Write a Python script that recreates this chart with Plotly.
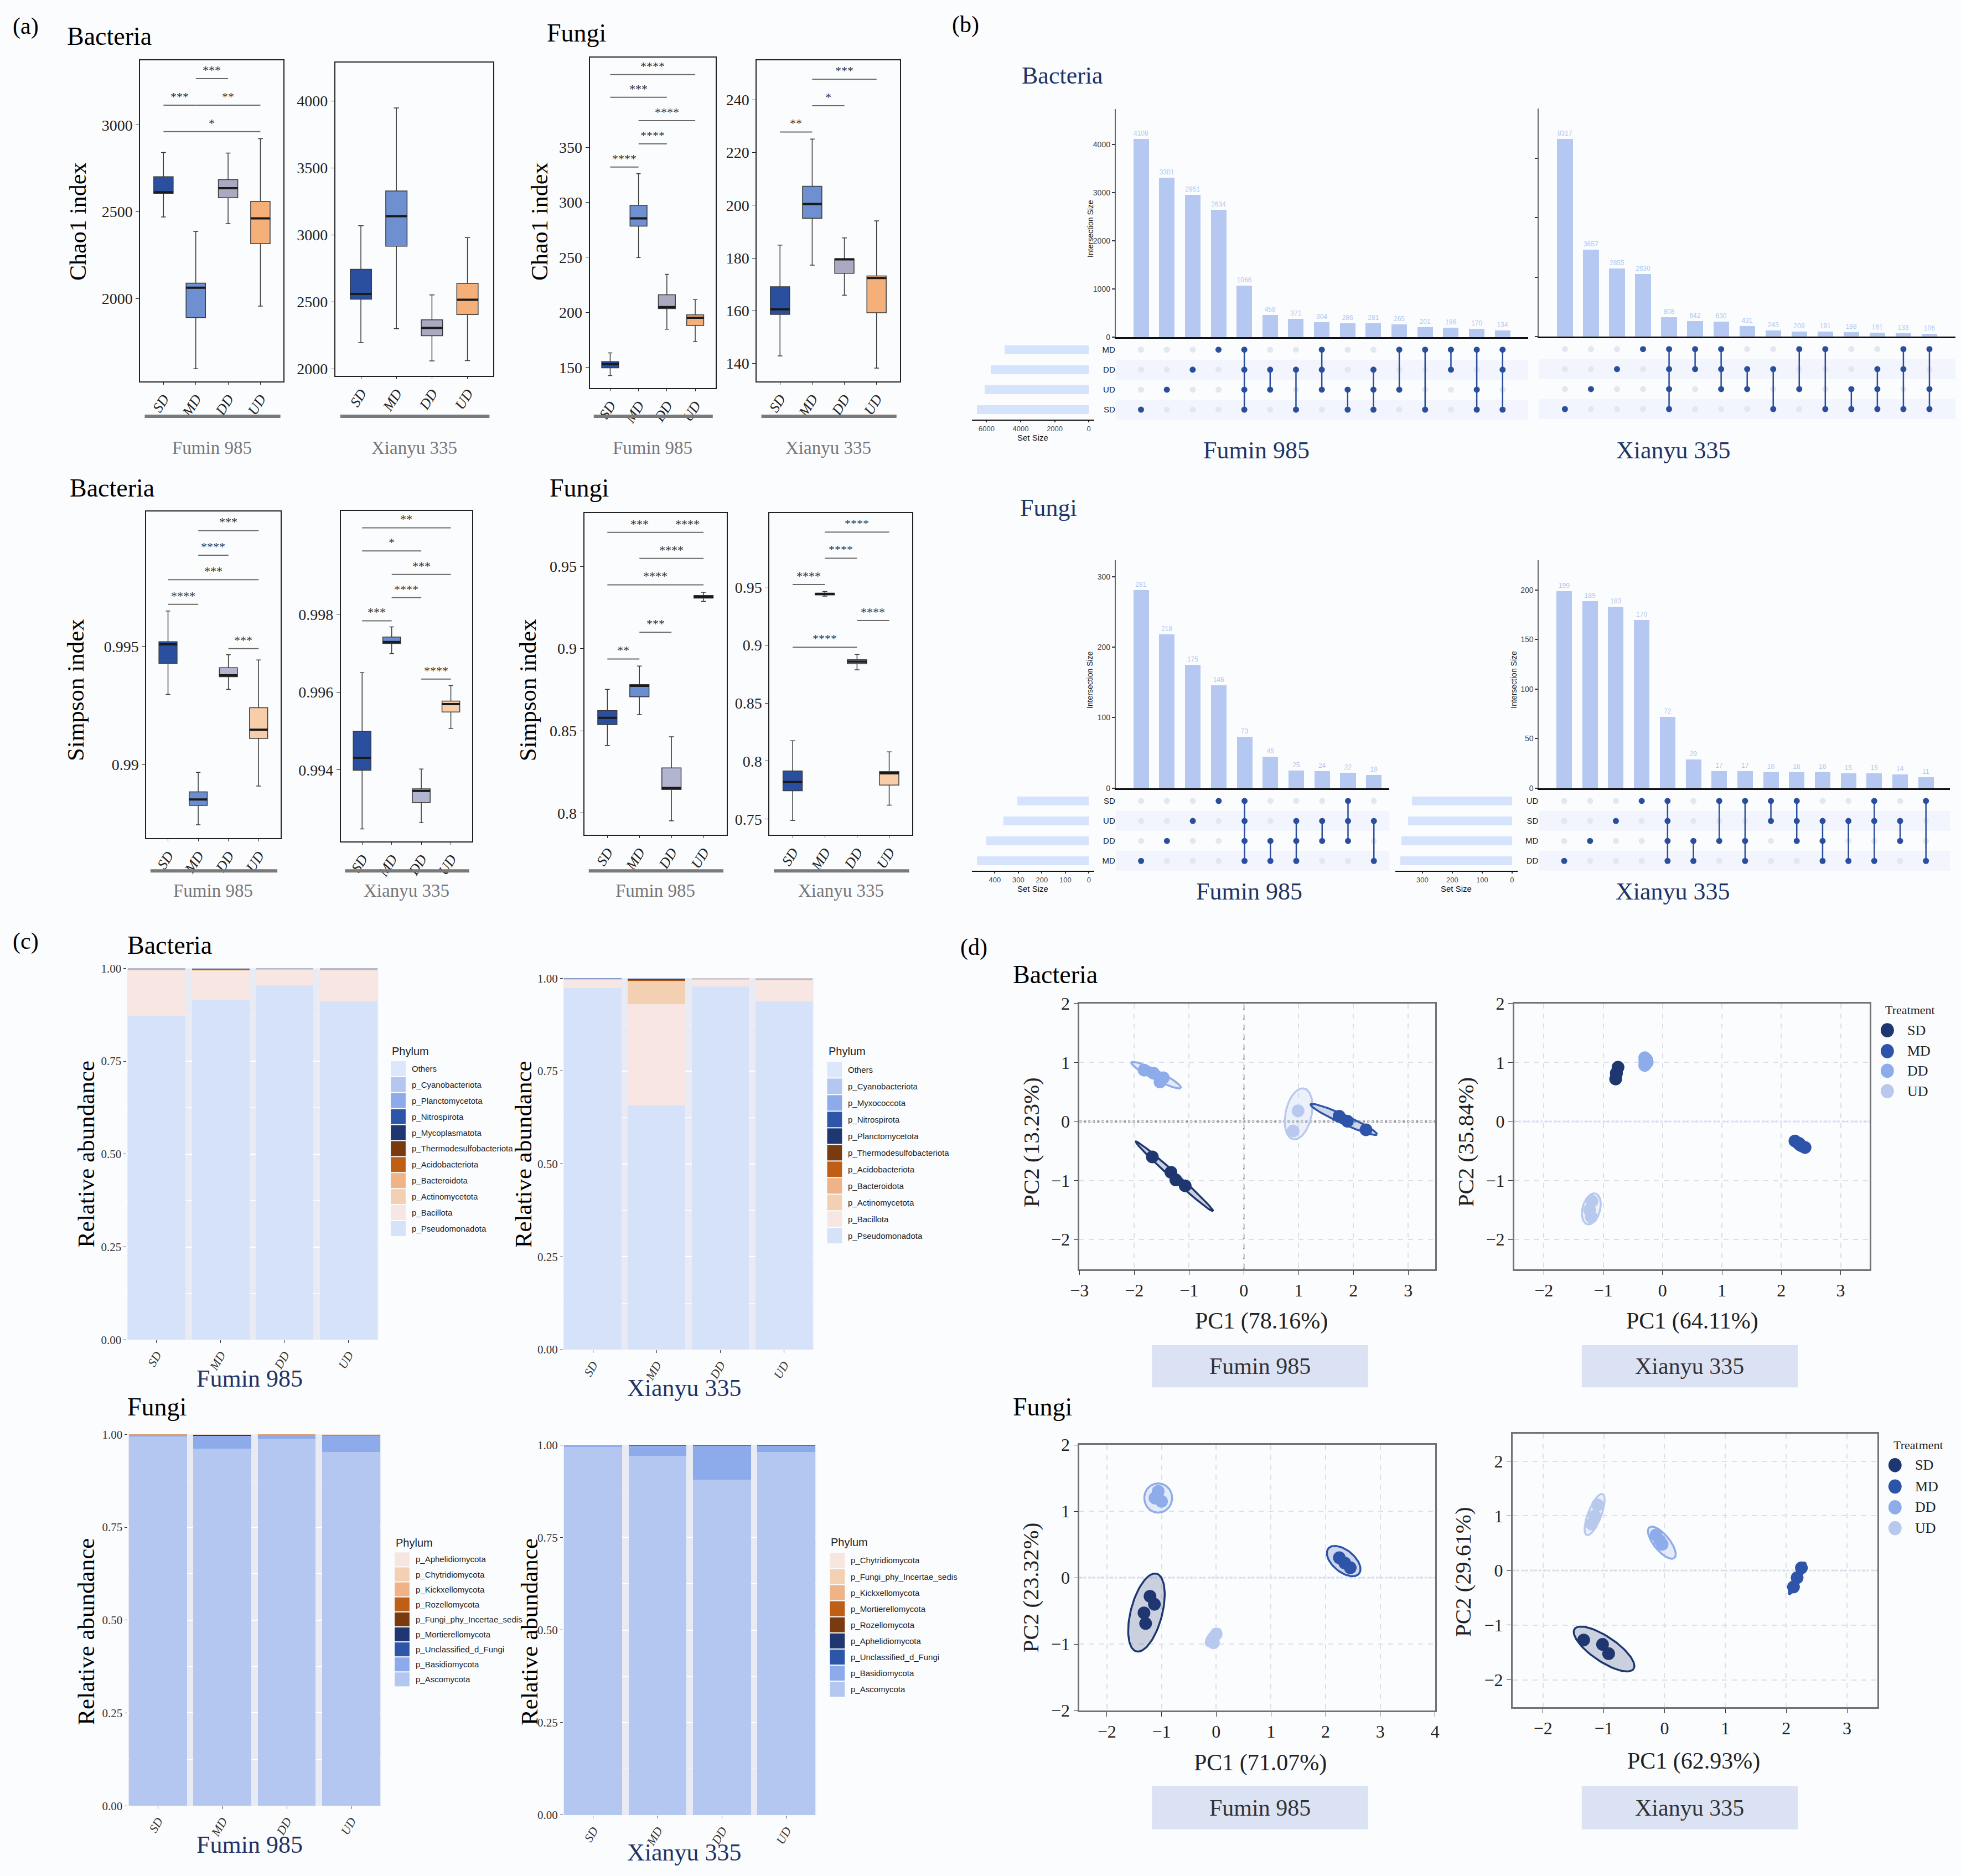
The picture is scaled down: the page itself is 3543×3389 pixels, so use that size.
import math
import plotly.graph_objects as go

W, H = 3543, 3389
SERIF = "Liberation Serif, Times New Roman, serif"
SANS = "Liberation Sans, Arial, sans-serif"
NARROW = "Liberation Sans Narrow, Liberation Sans, Arial, sans-serif"
NAVY = "#1f3466"
BG = "#fbfcfe"

treatments = ["SD", "MD", "DD", "UD"]
treatment_ticks = ["<i>SD</i>", "<i>MD</i>", "<i>DD</i>", "<i>UD</i>"]

# ---------------- (a) alpha diversity: [low whisker, q1, median, q3, high whisker]
chao_bac_fumin = [[2470, 2606, 2613, 2702, 2841], [1596, 1891, 2063, 2089, 2386],
                  [2432, 2581, 2636, 2685, 2838], [1957, 2316, 2462, 2560, 2921]]
chao_bac_xianyu = [[2197, 2521, 2560, 2744, 3070], [2301, 2917, 3141, 3329, 3949],
                   [2060, 2248, 2306, 2367, 2553], [2062, 2406, 2517, 2639, 2981]]
chao_fun_fumin = [[142.7, 149.7, 153.1, 155.4, 163.2], [249.8, 278.4, 285.4, 297.4, 326.0],
                  [184.8, 203.5, 204.8, 216.0, 234.7], [173.6, 188.2, 195.2, 197.8, 211.6]]
chao_fun_xianyu = [[142.8, 158.6, 160.5, 169.1, 184.9], [177.3, 195.1, 200.5, 207.2, 225.1],
                   [165.9, 174.2, 179.5, 179.7, 187.6], [138.2, 159.2, 172.4, 173.2, 194.1]]
simp_bac_fumin = [[0.99298, 0.99429, 0.99509, 0.99520, 0.99650], [0.98746, 0.98828, 0.98853, 0.98885, 0.98968],
                  [0.99319, 0.99372, 0.99378, 0.99410, 0.99465], [0.98910, 0.99111, 0.99148, 0.99241, 0.99443]]
simp_bac_xianyu = [[0.99248, 0.99399, 0.99431, 0.99499, 0.99650], [0.99699, 0.99725, 0.99729, 0.99742, 0.99768],
                   [0.99264, 0.99316, 0.99346, 0.99351, 0.99402], [0.99507, 0.99549, 0.99569, 0.99577, 0.99617]]
simp_fun_fumin = [[0.8411, 0.8538, 0.8579, 0.8623, 0.8752], [0.8598, 0.8707, 0.8773, 0.8781, 0.8894],
                  [0.7953, 0.8143, 0.8152, 0.8274, 0.8464], [0.9287, 0.9307, 0.9315, 0.9323, 0.9342]]
simp_fun_xianyu = [[0.7488, 0.7745, 0.782, 0.7915, 0.8175], [0.9423, 0.9433, 0.9443, 0.9448, 0.9463],
                   [0.8788, 0.884, 0.8858, 0.8875, 0.892], [0.762, 0.7793, 0.7895, 0.791, 0.808]]

# significance brackets: (group a, group b, height, stars)
sig_chao_bac_fumin = [("MD", "DD", 3267, "***"), ("SD", "MD", 3114, "***"), ("MD", "UD", 3114, "**"),
                      ("SD", "UD", 2962, "*")]
sig_chao_bac_xianyu = []
sig_chao_fun_fumin = [("SD", "UD", 416.0, "****"), ("SD", "DD", 395.4, "***"), ("MD", "UD", 374.1, "****"),
                      ("MD", "DD", 353.1, "****"), ("SD", "MD", 332.0, "****")]
sig_chao_fun_xianyu = [("MD", "UD", 247.8, "***"), ("MD", "DD", 237.8, "*"), ("SD", "MD", 227.8, "**")]
sig_simp_bac_fumin = [("MD", "UD", 0.99990, "***"), ("MD", "DD", 0.99886, "****"), ("SD", "UD", 0.99782, "***"),
                      ("SD", "MD", 0.99678, "****"), ("DD", "UD", 0.99491, "***")]
sig_simp_bac_xianyu = [("SD", "UD", 1.000231, "**"), ("SD", "DD", 0.999634, "*"), ("MD", "UD", 0.999030, "***"),
                       ("MD", "DD", 0.998433, "****"), ("SD", "MD", 0.997836, "***"), ("DD", "UD", 0.996336, "****")]
sig_simp_fun_fumin = [("SD", "DD", 0.97067, "***"), ("DD", "UD", 0.97067, "****"), ("MD", "UD", 0.95481, "****"),
                      ("SD", "UD", 0.93877, "****"), ("MD", "DD", 0.90987, "***"), ("SD", "MD", 0.89366, "**")]
sig_simp_fun_xianyu = [("MD", "UD", 0.9975, "****"), ("MD", "DD", 0.975, "****"), ("SD", "MD", 0.95225, "****"),
                       ("DD", "UD", 0.92125, "****"), ("SD", "DD", 0.89825, "****")]

chao_fills = ["#2a4f9f", "#6e8fd0", "#a9a9c2", "#f5b07a"]
simp_fills = ["#2b4f9f", "#6b8ed1", "#b2b4d0", "#f8cda9"]

# ---------------- (b) UpSet
bac_fumin_sizes = [4108, 3301, 2951, 2634, 1066, 458, 371, 304, 286, 281, 265, 201, 196, 170, 134]
bac_fumin_sets = [("SD",), ("UD",), ("DD",), ("MD",), ("MD", "DD", "UD", "SD"), ("DD", "UD"), ("DD", "SD"),
                  ("MD", "DD", "UD"), ("UD", "SD"), ("DD", "UD", "SD"), ("MD", "UD"), ("MD", "SD"),
                  ("MD", "DD"), ("MD", "UD", "SD"), ("MD", "DD", "SD")]
bac_fumin_rows = ["SD", "UD", "DD", "MD"]
bac_fumin_setsize = {"MD": 4940, "DD": 5742, "UD": 6097, "SD": 6581}

bac_xianyu_sizes = [8317, 3657, 2855, 2630, 808, 642, 630, 431, 243, 209, 191, 188, 161, 133, 106]
bac_xianyu_sets = [("SD",), ("UD",), ("DD",), ("MD",), ("MD", "DD", "UD", "SD"), ("MD", "DD"), ("MD", "DD", "UD"),
                   ("DD", "UD"), ("DD", "SD"), ("MD", "UD"), ("MD", "SD"), ("UD", "SD"), ("DD", "UD", "SD"),
                   ("MD", "DD", "SD"), ("MD", "UD", "SD")]
bac_xianyu_rows = ["SD", "UD", "DD", "MD"]

fun_fumin_sizes = [281, 218, 175, 146, 73, 45, 25, 24, 22, 19]
fun_fumin_sets = [("MD",), ("DD",), ("UD",), ("SD",), ("SD", "UD", "DD", "MD"), ("DD", "MD"), ("UD", "DD", "MD"),
                  ("UD", "DD"), ("SD", "UD", "DD"), ("UD", "MD")]
fun_fumin_rows = ["MD", "DD", "UD", "SD"]
fun_fumin_setsize = {"SD": 304, "UD": 362, "DD": 437, "MD": 476}

fun_xianyu_sizes = [199, 189, 183, 170, 72, 29, 17, 17, 16, 16, 16, 15, 15, 14, 11]
fun_xianyu_sets = [("DD",), ("MD",), ("SD",), ("UD",), ("UD", "SD", "MD", "DD"), ("MD", "DD"), ("UD", "MD"),
                   ("UD", "MD", "DD"), ("UD", "SD"), ("UD", "SD", "MD"), ("SD", "MD", "DD"), ("SD", "DD"),
                   ("UD", "SD", "DD"), ("SD", "MD"), ("UD", "DD")]
fun_xianyu_rows = ["DD", "MD", "SD", "UD"]
fun_xianyu_setsize = {"UD": 335, "SD": 348, "MD": 370, "DD": 374}

# ---------------- (c) relative abundance (legend order, values for SD, MD, DD, UD)
bac_fumin_phyla = ["Others", "p_Cyanobacteriota", "p_Planctomycetota", "p_Nitrospirota", "p_Mycoplasmatota",
                   "p_Thermodesulfobacteriota", "p_Acidobacteriota", "p_Bacteroidota", "p_Actinomycetota",
                   "p_Bacillota", "p_Pseudomonadota"]
bac_fumin_abund = [[0.0001, 0.0001, 0.0001, 0.0001], [0.0001, 0.0001, 0.0001, 0.0001],
                   [0.0001, 0.0001, 0.0001, 0.0001], [0.0002, 0.0001, 0.0001, 0.0001],
                   [0.0002, 0.0001, 0.0001, 0.0001], [0.0003, 0.0005, 0.0002, 0.0004],
                   [0.001, 0.002, 0.001, 0.0015], [0.001, 0.001, 0.0005, 0.001],
                   [0.002, 0.003, 0.001, 0.002], [0.123, 0.077, 0.0428, 0.0836],
                   [0.872, 0.916, 0.954, 0.911]]
bac_xianyu_phyla = ["Others", "p_Cyanobacteriota", "p_Myxococcota", "p_Nitrospirota", "p_Planctomycetota",
                    "p_Thermodesulfobacteriota", "p_Acidobacteriota", "p_Bacteroidota", "p_Actinomycetota",
                    "p_Bacillota", "p_Pseudomonadota"]
bac_xianyu_abund = [[0.0001, 0.0003, 0.0001, 0.0001], [0.0001, 0.0002, 0.0001, 0.0001],
                    [0.0001, 0.0002, 0.0001, 0.0001], [0.0001, 0.0003, 0.0001, 0.0001],
                    [0.0001, 0.0005, 0.0001, 0.0001], [0.0002, 0.0035, 0.0002, 0.0003],
                    [0.0005, 0.002, 0.0005, 0.001], [0.0005, 0.001, 0.0005, 0.001],
                    [0.0015, 0.062, 0.001, 0.002], [0.024, 0.273, 0.019, 0.057],
                    [0.973, 0.657, 0.978, 0.938]]
fun_fumin_phyla = ["p_Aphelidiomycota", "p_Chytridiomycota", "p_Kickxellomycota", "p_Rozellomycota",
                   "p_Fungi_phy_Incertae_sedis", "p_Mortierellomycota", "p_Unclassified_d_Fungi",
                   "p_Basidiomycota", "p_Ascomycota"]
fun_fumin_abund = [[0.0001, 0.0001, 0.0001, 0.0001], [0.0001, 0.0002, 0.0001, 0.0001],
                   [0.0001, 0.0002, 0.0001, 0.0001], [0.0001, 0.0002, 0.0001, 0.0001],
                   [0.0001, 0.0003, 0.0001, 0.0001], [0.0002, 0.002, 0.0002, 0.0005],
                   [0.0005, 0.001, 0.0005, 0.001], [0.004, 0.034, 0.011, 0.045],
                   [0.995, 0.962, 0.988, 0.953]]
fun_xianyu_phyla = ["p_Chytridiomycota", "p_Fungi_phy_Incertae_sedis", "p_Kickxellomycota",
                    "p_Mortierellomycota", "p_Rozellomycota", "p_Aphelidiomycota", "p_Unclassified_d_Fungi",
                    "p_Basidiomycota", "p_Ascomycota"]
fun_xianyu_abund = [[0.0001, 0.0001, 0.0001, 0.0001], [0.0001, 0.0001, 0.0001, 0.0001],
                    [0.0001, 0.0001, 0.0001, 0.0001], [0.0001, 0.0003, 0.0003, 0.0001],
                    [0.0001, 0.0002, 0.0002, 0.0001], [0.0001, 0.0003, 0.0002, 0.0001],
                    [0.0005, 0.001, 0.001, 0.001], [0.005, 0.028, 0.092, 0.017],
                    [0.994, 0.970, 0.906, 0.981]]
bac_phy_colors = ["#dde7fb", "#b3c7f0", "#8dabea", "#2d55a8", "#1e3770", "#7a3a0f", "#bf5e15",
                  "#efb387", "#f4d0b3", "#f7e6e2", "#d6e2fa"]
fun_phy_colors = ["#f7e6e0", "#f4d0b3", "#efb387", "#bf5e15", "#7a3a0f", "#1e3770", "#2d55a8",
                  "#8dabea", "#b3c7f0"]

# ---------------- (d) PCA scores and ellipses (cx, cy, major semi-axis ux, uy, minor/major ratio)
pca_colors = {"SD": "#1e3770", "MD": "#2d54a8", "DD": "#8eacea", "UD": "#b8c9ee"}
pca_bac_fumin = {"SD": [(-1.67, -0.60), (-1.33, -0.86), (-1.24, -0.99), (-1.07, -1.09)],
                 "MD": [(1.74, 0.09), (1.89, 0.005), (2.23, -0.14)],
                 "DD": [(-1.82, 0.87), (-1.65, 0.82), (-1.47, 0.74), (-1.53, 0.67)],
                 "UD": [(0.99, 0.18), (0.90, -0.16)]}
ell_bac_fumin = {"SD": (-1.265, -0.93, 0.705, -0.59, 0.06), "MD": (1.825, 0.035, 0.605, -0.255, 0.12),
                 "DD": (-1.6, 0.785, 0.45, -0.215, 0.16), "UD": (1.0, 0.13, 0.10, 0.43, 0.5)}
pca_bac_xianyu = {"SD": [(-0.75, 0.92), (-0.78, 0.82), (-0.79, 0.72)],
                  "MD": [(2.23, -0.33), (2.30, -0.37), (2.40, -0.44)],
                  "DD": [(-0.30, 1.08), (-0.26, 1.0), (-0.30, 0.95)],
                  "UD": [(-1.19, -1.35), (-1.23, -1.5), (-1.20, -1.62)]}
ell_bac_xianyu = {"SD": (-0.77, 0.82, 0.02, 0.14, 0.6), "MD": (2.31, -0.39, 0.12, -0.1, 0.6),
                  "DD": (-0.28, 1.02, 0.0, 0.13, 0.85), "UD": (-1.2, -1.48, 0.07, 0.26, 0.55)}
pca_fun_fumin = {"SD": [(-1.21, -0.28), (-1.13, -0.40), (-1.32, -0.53), (-1.29, -0.69)],
                 "MD": [(2.25, 0.30), (2.35, 0.22), (2.45, 0.15)],
                 "DD": [(-1.06, 1.3), (-1.0, 1.15), (-1.12, 1.2)],
                 "UD": [(-0.08, -0.95), (0.0, -0.85), (-0.05, -0.98)]}
ell_fun_fumin = {"SD": (-1.275, -0.525, 0.185, 0.585, 0.39), "MD": (2.33, 0.25, 0.28, -0.19, 0.55),
                 "DD": (-1.06, 1.2, 0.0, 0.22, 0.95), "UD": (-0.05, -0.9, 0.12, 0.12, 0.5)}
pca_fun_xianyu = {"SD": [(-1.33, -1.27), (-1.02, -1.35), (-0.92, -1.52)],
                  "MD": [(2.25, 0.05), (2.18, -0.13), (2.12, -0.30)],
                  "DD": [(-0.14, 0.65), (-0.04, 0.48), (-0.08, 0.55)],
                  "UD": [(-1.1, 1.2), (-1.15, 1.0), (-1.2, 0.85)]}
ell_fun_xianyu = {"SD": (-0.995, -1.435, 0.485, -0.365, 0.35), "MD": (2.18, -0.14, 0.13, 0.29, 0.18),
                  "DD": (-0.045, 0.51, 0.205, -0.28, 0.4), "UD": (-1.15, 1.025, 0.13, 0.375, 0.3)}


fig = go.Figure()
axes_layout = {}
shapes = []
annotations = []
n_axes = [0]


def new_axes(box, xa, ya):
    n_axes[0] += 1
    s = "" if n_axes[0] == 1 else str(n_axes[0])
    l, t, r, b = box
    axes_layout["xaxis" + s] = dict(xa, domain=[l / W, r / W], anchor="y" + s)
    axes_layout["yaxis" + s] = dict(ya, domain=[1 - b / H, 1 - t / H], anchor="x" + s)
    return "x" + s, "y" + s


def label(x, y, txt, size, color="black", family=SERIF, xanchor="center", angle=0):
    annotations.append(dict(x=x / W, y=1 - y / H, xref="paper", yref="paper", text=txt,
                            showarrow=False, textangle=angle, xanchor=xanchor, yanchor="middle",
                            font=dict(size=size, color=color, family=family)))


def rect_px(x0, y0, x1, y1, color, layer="below"):
    shapes.append(dict(type="rect", xref="paper", yref="paper", x0=x0 / W, x1=x1 / W,
                       y0=1 - y1 / H, y1=1 - y0 / H, fillcolor=color, line=dict(width=0), layer=layer))


# ---------------- (a)
def box_panel(box, stats, fills, yrange, yticks, sig, group, line_y, group_y):
    xa = dict(range=[-0.72, 3.72], tickvals=[0, 1, 2, 3], ticktext=treatment_ticks, tickangle=-58,
              ticks="outside", ticklen=4, tickcolor="#222",
              tickfont=dict(family=SERIF, size=26, color="#222"),
              showline=True, mirror=True, linecolor="#222", linewidth=2, showgrid=False, zeroline=False)
    ya = dict(range=yrange, tickvals=yticks, ticks="outside", ticklen=6, tickcolor="#222",
              tickfont=dict(family=SERIF, size=28, color="#222"),
              showline=True, mirror=True, linecolor="#222", linewidth=2, showgrid=False, zeroline=False)
    xid, yid = new_axes(box, xa, ya)
    for i, (name, s, col) in enumerate(zip(treatments, stats, fills)):
        fig.add_trace(go.Box(x=[i], lowerfence=[s[0]], q1=[s[1]], median=[s[2]], q3=[s[3]],
                             upperfence=[s[4]], fillcolor=col, line=dict(color="#3a3a3a", width=1.5),
                             width=0.6, whiskerwidth=0.25, name=name, showlegend=False,
                             hoverinfo="skip", xaxis=xid, yaxis=yid))
    mx, my = [], []
    for i, s in enumerate(stats):
        mx += [i - 0.3, i + 0.3, None]
        my += [s[2], s[2], None]
    fig.add_trace(go.Scatter(x=mx, y=my, mode="lines", line=dict(color="#1a1a1a", width=4),
                             showlegend=False, hoverinfo="skip", xaxis=xid, yaxis=yid))
    for a, b, yv, stars in sig:
        i, j = treatments.index(a), treatments.index(b)
        shapes.append(dict(type="line", xref=xid, yref=yid, x0=i, x1=j, y0=yv, y1=yv,
                           line=dict(color="#6a6a6a", width=2)))
        annotations.append(dict(x=(i + j) / 2, y=yv, xref=xid, yref=yid, text=stars, showarrow=False,
                                yanchor="bottom", yshift=1, font=dict(family=SERIF, size=22, color="#333")))
    shapes.append(dict(type="line", xref=xid, yref="paper", x0=-0.58, x1=3.62,
                       y0=1 - line_y / H, y1=1 - line_y / H, line=dict(color="#7a7a7a", width=6)))
    annotations.append(dict(x=1.5, y=1 - group_y / H, xref=xid, yref="paper", text=group,
                            showarrow=False, font=dict(family=SERIF, size=33, color="#777")))


box_panel((238, 92, 499, 678), chao_bac_fumin, chao_fills, [1524, 3372], [2000, 2500, 3000],
          sig_chao_bac_fumin, "Fumin 985", 742, 779)
box_panel((593, 96, 880, 668), chao_bac_xianyu, chao_fills, [1949, 4288], [2000, 2500, 3000, 3500, 4000],
          sig_chao_bac_xianyu, "Xianyu 335", 742, 779)
box_panel((1056, 87, 1285, 690), chao_fun_fumin, chao_fills, [131.5, 431.4], [150, 200, 250, 300, 350],
          sig_chao_fun_fumin, "Fumin 985", 742, 779)
box_panel((1360, 92, 1620, 678), chao_fun_xianyu, chao_fills, [133.2, 255.0], [140, 160, 180, 200, 220, 240],
          sig_chao_fun_xianyu, "Xianyu 335", 742, 779)
box_panel((249, 916, 493, 1512), simp_bac_fumin, simp_fills, [0.9869, 1.0007], [0.99, 0.995],
          sig_simp_bac_fumin, "Fumin 985", 1572, 1608)
box_panel((603, 915, 842, 1518), simp_bac_xianyu, simp_fills, [0.99216, 1.00066], [0.994, 0.996, 0.998],
          sig_simp_bac_xianyu, "Xianyu 335", 1572, 1608)
box_panel((1046, 919, 1305, 1506), simp_fun_fumin, simp_fills, [0.7868, 0.98225], [0.8, 0.85, 0.9, 0.95],
          sig_simp_fun_fumin, "Fumin 985", 1572, 1608)
box_panel((1383, 919, 1643, 1506), simp_fun_xianyu, simp_fills, [0.7365, 1.01375],
          [0.75, 0.8, 0.85, 0.9, 0.95], sig_simp_fun_xianyu, "Xianyu 335", 1572, 1608)

label(30, 30, "(a)", 42)
label(103, 48, "Bacteria", 46, xanchor="left")
label(976, 42, "Fungi", 46, xanchor="left")
label(108, 873, "Bacteria", 46, xanchor="left")
label(981, 873, "Fungi", 46, xanchor="left")
label(125, 387, "Chao1 index", 42, angle=-90)
label(965, 387, "Chao1 index", 42, angle=-90)
label(121, 1242, "Simpson index", 43, angle=-90)
label(943, 1242, "Simpson index", 43, angle=-90)


# ---------------- (b)
def upset_panel(bars_box, mat_box, xrange, yrange, yticks, show_labels, sizes, sets, rows,
                set_box=None, set_sizes=None, set_range=None, set_ticks=None):
    xa = dict(range=xrange, showticklabels=False, ticks="", showgrid=False, zeroline=False,
              showline=True, linecolor="#111", linewidth=3)
    ya = dict(range=yrange, tickvals=yticks, showticklabels=show_labels, ticks="outside", ticklen=5,
              tickwidth=2, tickcolor="#333", tickfont=dict(family=NARROW, size=14, color="#444"),
              showline=True, linecolor="#666", linewidth=2, showgrid=False, zeroline=False)
    xb, yb = new_axes(bars_box, xa, ya)
    fig.add_trace(go.Bar(x=list(range(len(sizes))), y=sizes, width=0.6,
                         marker=dict(color="#b4c8f2", line=dict(width=0)),
                         text=[str(v) for v in sizes], textposition="outside", textangle=0,
                         constraintext="none", cliponaxis=False,
                         textfont=dict(family=NARROW, size=12, color="#b3c6ee"),
                         showlegend=False, hoverinfo="skip", xaxis=xb, yaxis=yb))
    xm, ym = new_axes(mat_box, dict(range=xrange, visible=False),
                      dict(range=[-0.5, 3.5], tickvals=[0, 1, 2, 3], ticktext=rows,
                           showticklabels=show_labels, ticks="",
                           tickfont=dict(family=NARROW, size=15, color="#222"),
                           showline=False, showgrid=False, zeroline=False))
    for r in (0, 2):
        shapes.append(dict(type="rect", xref=xm + " domain", yref=ym, x0=0, x1=1, y0=r - 0.5, y1=r + 0.5,
                           fillcolor="#f2f5fd", line=dict(width=0), layer="below"))
    ix, iy, ax, ay, lx, ly = [], [], [], [], [], []
    for c, members in enumerate(sets):
        active = [rows.index(m) for m in members]
        for r in range(4):
            if r in active:
                ax.append(c)
                ay.append(r)
            else:
                ix.append(c)
                iy.append(r)
        if len(active) > 1:
            lx += [c, c, None]
            ly += [min(active), max(active), None]
    fig.add_trace(go.Scatter(x=ix, y=iy, mode="markers", marker=dict(size=11, color="#e3e7f0"),
                             showlegend=False, hoverinfo="skip", xaxis=xm, yaxis=ym))
    fig.add_trace(go.Scatter(x=lx, y=ly, mode="lines", line=dict(color="#2a4e9b", width=2.5),
                             showlegend=False, hoverinfo="skip", xaxis=xm, yaxis=ym))
    fig.add_trace(go.Scatter(x=ax, y=ay, mode="markers", marker=dict(size=11, color="#2a4e9b"),
                             showlegend=False, hoverinfo="skip", xaxis=xm, yaxis=ym))
    if set_box is not None:
        xs, ys = new_axes(set_box,
                          dict(range=set_range, tickvals=set_ticks, ticks="outside", ticklen=3, tickwidth=2,
                               tickcolor="#333", tickfont=dict(family=NARROW, size=13, color="#444"),
                               showline=True, linecolor="#111", linewidth=2, showgrid=False, zeroline=False),
                          dict(range=[-0.5, 3.5], visible=False))
        fig.add_trace(go.Bar(x=[set_sizes[r] for r in rows], y=[0, 1, 2, 3], orientation="h", width=0.45,
                             marker=dict(color="#d6e3fc", line=dict(width=0)), showlegend=False,
                             hoverinfo="skip", xaxis=xs, yaxis=ys))


upset_panel((2013, 181, 2763, 597), (2013, 602, 2763, 748), [-0.98, 14.98], [0, 4730],
            [0, 1000, 2000, 3000, 4000], True, bac_fumin_sizes, bac_fumin_sets, bac_fumin_rows,
            (1751, 602, 1974, 748), bac_fumin_setsize, [6871, -322], [6000, 4000, 2000, 0])
upset_panel((2783, 180, 3541, 596), (2783, 601, 3541, 747), [-1, 15], [0, 9607],
            [0, 2500, 5000, 7500], False, bac_xianyu_sizes, bac_xianyu_sets, bac_xianyu_rows)
upset_panel((2013, 1005, 2511, 1421), (2013, 1426, 2511, 1572), [-0.98, 9.6], [0, 323],
            [0, 100, 200, 300], True, fun_fumin_sizes, fun_fumin_sets, fun_fumin_rows,
            (1751, 1426, 1974, 1572), fun_fumin_setsize, [498, -23], [400, 300, 200, 100, 0])
upset_panel((2783, 1005, 3531, 1421), (2783, 1426, 3531, 1572), [-0.98, 14.93], [0, 230],
            [0, 50, 100, 150, 200], True, fun_xianyu_sizes, fun_xianyu_sets, fun_xianyu_rows,
            (2522, 1426, 2744, 1572), fun_xianyu_setsize, [390, -18], [300, 200, 100, 0])

label(1740, 27, "(b)", 42)
label(1916, 120, "Bacteria", 44, NAVY)
label(1891, 909, "Fungi", 44, NAVY)
label(1967, 399, "Intersection Size", 14, "#111", SANS, angle=-90)
label(1966, 1223, "Intersection Size", 14, "#111", SANS, angle=-90)
label(2737, 1223, "Intersection Size", 14, "#111", SANS, angle=-90)
label(1862, 781, "Set Size", 15, "#111", NARROW)
label(1862, 1605, "Set Size", 15, "#111", NARROW)
label(2633, 1605, "Set Size", 15, "#111", NARROW)
label(2269, 804, "Fumin 985", 44, NAVY)
label(3028, 804, "Xianyu 335", 44, NAVY)
label(2256, 1610, "Fumin 985", 44, NAVY)
label(3027, 1610, "Xianyu 335", 44, NAVY)


# ---------------- (c)
def composition_panel(box, phyla, abund, colors, leg_x, title_y, first_y, step):
    xa = dict(range=[0.537, 4.463], tickvals=[1, 2, 3, 4], ticktext=treatment_ticks, tickangle=-60,
              ticks="outside", ticklen=5, tickcolor="#333", tickfont=dict(family=SERIF, size=22, color="#333"),
              showline=False, showgrid=False, zeroline=False)
    ya = dict(range=[0, 1], tickvals=[0, 0.25, 0.5, 0.75, 1], ticktext=["0.00", "0.25", "0.50", "0.75", "1.00"],
              ticks="outside", ticklen=5, tickcolor="#333", tickfont=dict(family=SERIF, size=21, color="#333"),
              showline=False, showgrid=True, gridcolor="white", gridwidth=2, zeroline=False,
              minor=dict(tickvals=[0.125, 0.375, 0.625, 0.875], showgrid=True, gridcolor="white",
                         gridwidth=1, ticks=""))
    xid, yid = new_axes(box, xa, ya)
    shapes.append(dict(type="rect", xref=xid + " domain", yref=yid + " domain", x0=0, x1=1, y0=0, y1=1,
                       fillcolor="#e8ebf3", line=dict(width=0), layer="below"))
    for name, vals, col in reversed(list(zip(phyla, abund, colors))):
        fig.add_trace(go.Bar(x=[1, 2, 3, 4], y=vals, width=0.9, name=name,
                             marker=dict(color=col, line=dict(width=0)), showlegend=False,
                             hoverinfo="skip", xaxis=xid, yaxis=yid))
    label(leg_x, title_y, "Phylum", 20, "#222", NARROW, xanchor="left")
    for k, (name, col) in enumerate(zip(phyla, colors)):
        yc = first_y + k * step
        rect_px(leg_x, yc - step / 2 + 1, leg_x + 27, yc + step / 2 - 1, col, layer="above")
        label(leg_x + 36, yc, name, 15, "#222", NARROW, xanchor="left")


composition_panel((214, 1750, 671, 2428), bac_fumin_phyla, bac_fumin_abund, bac_phy_colors, 694, 1901, 1933, 29.2)
composition_panel((1008, 1768, 1463, 2446), bac_xianyu_phyla, bac_xianyu_abund, bac_phy_colors, 1488, 1901, 1935, 30.3)
composition_panel((216, 2601, 676, 3279), fun_fumin_phyla, fun_fumin_abund, fun_phy_colors, 701, 2799, 2829, 27.4)
composition_panel((1008, 2620, 1468, 3296), fun_xianyu_phyla, fun_xianyu_abund, fun_phy_colors, 1493, 2798, 2831, 29.4)

label(30, 1701, "(c)", 42)
label(212, 1708, "Bacteria", 46, xanchor="left")
label(212, 2551, "Fungi", 46, xanchor="left")
label(140, 2089, "Relative abundance", 43, angle=-90)
label(935, 2089, "Relative abundance", 43, angle=-90)
label(140, 2961, "Relative abundance", 43, angle=-90)
label(946, 2961, "Relative abundance", 43, angle=-90)
label(437, 2499, "Fumin 985", 44, NAVY)
label(1228, 2516, "Xianyu 335", 44, NAVY)
label(437, 3350, "Fumin 985", 44, NAVY)
label(1228, 3364, "Xianyu 335", 44, NAVY)


# ---------------- (d)
def rgba(hex_color, a):
    h = hex_color.lstrip("#")
    return "rgba(%d,%d,%d,%.2f)" % (int(h[0:2], 16), int(h[2:4], 16), int(h[4:6], 16), a)


def pca_panel(box, xrange, yrange, xticks, yticks, points, ellipses, strong_zero):
    tick = dict(ticks="outside", ticklen=8, tickcolor="#333", tickfont=dict(family=SERIF, size=32, color="#222"),
                showline=True, mirror=True, linecolor="#737373", linewidth=2.5, showgrid=True,
                gridcolor="#dcdfe6", griddash="dash", gridwidth=1.5, zeroline=False)
    xid, yid = new_axes(box, dict(tick, range=xrange, tickvals=xticks), dict(tick, range=yrange, tickvals=yticks))
    if strong_zero:
        shapes.append(dict(type="line", xref=xid, yref=yid + " domain", x0=0, x1=0, y0=0, y1=1, layer="below",
                           line=dict(color="#8f8f8f", width=2.5, dash="dash")))
        shapes.append(dict(type="line", xref=xid + " domain", yref=yid, x0=0, x1=1, y0=0, y1=0, layer="below",
                           line=dict(color="#999999", width=4, dash="dot")))
    else:
        shapes.append(dict(type="line", xref=xid + " domain", yref=yid, x0=0, x1=1, y0=0, y1=0, layer="below",
                           line=dict(color="#dde3f6", width=4, dash="dot")))
    l, t, r, b = box
    sx = (r - l) / (xrange[1] - xrange[0])
    sy = (b - t) / (yrange[1] - yrange[0])
    for g in ["UD", "DD", "MD", "SD"]:
        cx, cy, ux, uy, ratio = ellipses[g]
        vx, vy = -ratio * uy * sy / sx, ratio * ux * sx / sy
        ex, ey = [], []
        for k in range(81):
            a = 2 * math.pi * k / 80
            ex.append(cx + ux * math.cos(a) + vx * math.sin(a))
            ey.append(cy + uy * math.cos(a) + vy * math.sin(a))
        fig.add_trace(go.Scatter(x=ex, y=ey, mode="lines", fill="toself", fillcolor=rgba(pca_colors[g], 0.22),
                                 line=dict(color=pca_colors[g], width=3.5), showlegend=False,
                                 hoverinfo="skip", xaxis=xid, yaxis=yid))
        fig.add_trace(go.Scatter(x=[p[0] for p in points[g]], y=[p[1] for p in points[g]], mode="markers",
                                 marker=dict(size=23, color=pca_colors[g]), showlegend=False,
                                 hoverinfo="skip", xaxis=xid, yaxis=yid))


pca_panel((1947, 1814, 2594, 2299), [-3, 3.49], [-2.5, 2.0], [-3, -2, -1, 0, 1, 2, 3], [-2, -1, 0, 1, 2],
          pca_bac_fumin, ell_bac_fumin, True)
pca_panel((2738, 1814, 3385, 2299), [-2.5, 3.49], [-2.5, 2.0], [-2, -1, 0, 1, 2, 3], [-2, -1, 0, 1, 2],
          pca_bac_xianyu, ell_bac_xianyu, False)
pca_panel((1947, 2620, 2594, 3105), [-2.5, 4], [-2, 2], [-2, -1, 0, 1, 2, 3, 4], [-2, -1, 0, 1, 2],
          pca_fun_fumin, ell_fun_fumin, False)
pca_panel((2735, 2600, 3399, 3099), [-2.5, 3.5], [-2.5, 2.5], [-2, -1, 0, 1, 2, 3], [-2, -1, 0, 1, 2],
          pca_fun_xianyu, ell_fun_xianyu, False)

label(1755, 1712, "(d)", 42)
label(1824, 1761, "Bacteria", 46, xanchor="left")
label(1824, 2551, "Fungi", 46, xanchor="left")
label(2278, 2394, "PC1 (78.16%)", 42, "#222")
label(3062, 2394, "PC1 (64.11%)", 42, "#222")
label(2276, 3200, "PC1 (71.07%)", 42, "#222")
label(3065, 3197, "PC1 (62.93%)", 42, "#222")
label(1859, 2067, "PC2 (13.23%)", 41, "#222", angle=-90)
label(2650, 2067, "PC2 (35.84%)", 41, "#222", angle=-90)
label(1859, 2880, "PC2 (23.32%)", 41, "#222", angle=-90)
label(2644, 2852, "PC2 (29.61%)", 41, "#222", angle=-90)
for (x0, y0, x1, y1, txt) in [(2079, 2438, 2472, 2515, "Fumin 985"), (2861, 2438, 3254, 2515, "Xianyu 335"),
                              (2079, 3243, 2472, 3322, "Fumin 985"), (2861, 3243, 3254, 3322, "Xianyu 335")]:
    rect_px(x0, y0, x1, y1, "#dbe2f4")
    label((x0 + x1) / 2, (y0 + y1) / 2, txt, 42, "#333")

# Treatment legends
for (tx, ty, mx, txx, ys) in [(3458, 1826, 3417, 3451, [1863, 1901, 1937, 1974]),
                              (3474, 2620, 3431, 3465, [2657, 2696, 2734, 2772])]:
    label(tx, ty, "Treatment", 22, "#222")
    for g, yy in zip(treatments, ys):
        shapes.append(dict(type="circle", xref="paper", yref="paper", x0=(mx - 12) / W, x1=(mx + 12) / W,
                           y0=1 - (yy + 13) / H, y1=1 - (yy - 13) / H, fillcolor=pca_colors[g],
                           line=dict(width=0), layer="above"))
        label(txx, yy, g, 26, "#222", xanchor="left")

fig.update_layout(axes_layout)
fig.update_layout(width=W, height=H, margin=dict(l=0, r=0, t=0, b=0), paper_bgcolor=BG, plot_bgcolor=BG,
                  barmode="stack", showlegend=False, shapes=shapes, annotations=annotations)
fig.write_html("out.html", config={"displayModeBar": False},
               post_script="document.body.style.margin='0px';document.body.style.overflow='hidden';")
